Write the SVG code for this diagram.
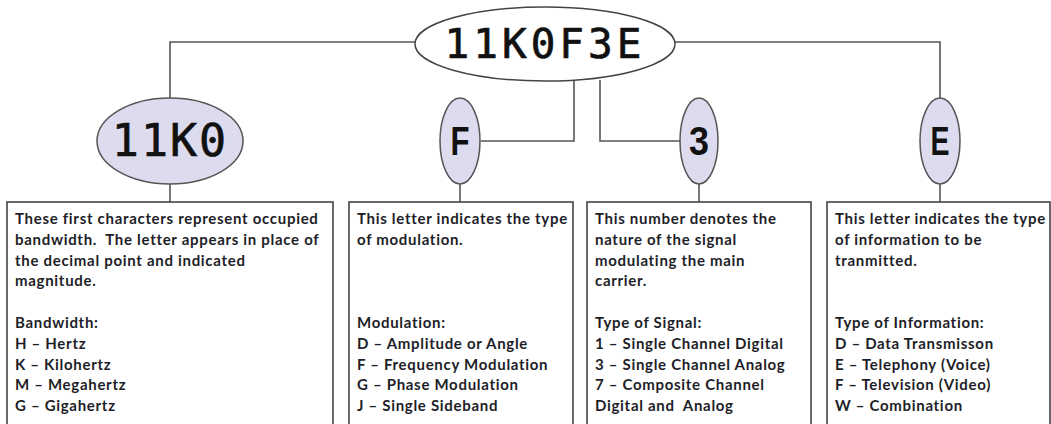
<svg xmlns="http://www.w3.org/2000/svg" width="1051" height="424" viewBox="0 0 1051 424">
<style>
.conn{fill:none;stroke:#555;stroke-width:1.6}
.box{fill:#fff;stroke:#444;stroke-width:1.6}
.ell{fill:#dcdcee;stroke:#555;stroke-width:1.5}
.top{fill:#fff;stroke:#444;stroke-width:1.5}
.mono{font-family:"DejaVu Sans Mono",monospace;fill:#111;stroke:#111;stroke-width:0.7;text-anchor:middle}
.big{font-family:"Liberation Sans",Arial,sans-serif;font-weight:bold;fill:#111;text-anchor:middle;font-size:40px}
.t{font-family:Lato,"Liberation Sans",sans-serif;font-weight:bold;font-size:15px;letter-spacing:0.7px;fill:#1e1e28}
</style>
<rect width="1051" height="424" fill="#fff"/>
<g id="connectors">
<polyline class="conn" points="170,98 170,42 415,42"/>
<polyline class="conn" points="675,42 940,42 940,98"/>
<polyline class="conn" points="574,80 574,141 481,141"/>
<polyline class="conn" points="600,80 600,141 680,141"/>
<line class="conn" x1="170" y1="184" x2="170" y2="202"/>
<line class="conn" x1="460" y1="184" x2="460" y2="202"/>
<line class="conn" x1="699" y1="184" x2="699" y2="202"/>
<line class="conn" x1="940" y1="184" x2="940" y2="202"/>
</g>
<g id="node-title">
<ellipse class="top" cx="545" cy="44" rx="130" ry="37"/>
<text class="mono" x="545" y="58" font-size="41" letter-spacing="4">11K0F3E</text>
</g>
<g id="node-11k0">
<ellipse class="ell" cx="170" cy="141" rx="73" ry="43"/>
<text class="mono" x="170" y="156" font-size="45" letter-spacing="2">11K0</text>
</g>
<g id="node-f">
<ellipse class="ell" cx="460" cy="141" rx="20" ry="43"/>
<text class="big" x="460" y="155" textLength="19" lengthAdjust="spacingAndGlyphs">F</text>
</g>
<g id="node-3">
<ellipse class="ell" cx="699" cy="141" rx="19" ry="43"/>
<text class="big" x="699" y="155" textLength="20" lengthAdjust="spacingAndGlyphs">3</text>
</g>
<g id="node-e">
<ellipse class="ell" cx="940" cy="141" rx="20" ry="43"/>
<text class="big" x="940" y="155" textLength="19" lengthAdjust="spacingAndGlyphs">E</text>
</g>
<g id="box-bandwidth">
<rect class="box" x="7" y="202" width="326" height="240"/>
<text class="t" x="15" y="224">These first characters represent occupied</text>
<text class="t" x="15" y="244.8" xml:space="preserve">bandwidth.  The letter appears in place of</text>
<text class="t" x="15" y="265.6">the decimal point and indicated</text>
<text class="t" x="15" y="286.4">magnitude.</text>
<text class="t" x="15" y="328">Bandwidth:</text>
<text class="t" x="15" y="348.8">H – Hertz</text>
<text class="t" x="15" y="369.6">K – Kilohertz</text>
<text class="t" x="15" y="390.4">M – Megahertz</text>
<text class="t" x="15" y="411.2">G – Gigahertz</text>
</g>
<g id="box-modulation">
<rect class="box" x="349" y="202" width="224" height="240"/>
<text class="t" x="357" y="224">This letter indicates the type</text>
<text class="t" x="357" y="244.8">of modulation.</text>
<text class="t" x="357" y="328">Modulation:</text>
<text class="t" x="357" y="348.8">D – Amplitude or Angle</text>
<text class="t" x="357" y="369.6">F – Frequency Modulation</text>
<text class="t" x="357" y="390.4">G – Phase Modulation</text>
<text class="t" x="357" y="411.2">J – Single Sideband</text>
</g>
<g id="box-signal">
<rect class="box" x="587" y="202" width="224" height="240"/>
<text class="t" x="595" y="224">This number denotes the</text>
<text class="t" x="595" y="244.8">nature of the signal</text>
<text class="t" x="595" y="265.6">modulating the main</text>
<text class="t" x="595" y="286.4">carrier.</text>
<text class="t" x="595" y="328">Type of Signal:</text>
<text class="t" x="595" y="348.8">1 – Single Channel Digital</text>
<text class="t" x="595" y="369.6">3 – Single Channel Analog</text>
<text class="t" x="595" y="390.4">7 – Composite Channel</text>
<text class="t" x="595" y="411.2" xml:space="preserve">Digital and  Analog</text>
</g>
<g id="box-information">
<rect class="box" x="827" y="202" width="223" height="240"/>
<text class="t" x="835" y="224">This letter indicates the type</text>
<text class="t" x="835" y="244.8">of information to be</text>
<text class="t" x="835" y="265.6">tranmitted.</text>
<text class="t" x="835" y="328">Type of Information:</text>
<text class="t" x="835" y="348.8">D – Data Transmisson</text>
<text class="t" x="835" y="369.6">E – Telephony (Voice)</text>
<text class="t" x="835" y="390.4">F – Television (Video)</text>
<text class="t" x="835" y="411.2">W – Combination</text>
</g>
</svg>
